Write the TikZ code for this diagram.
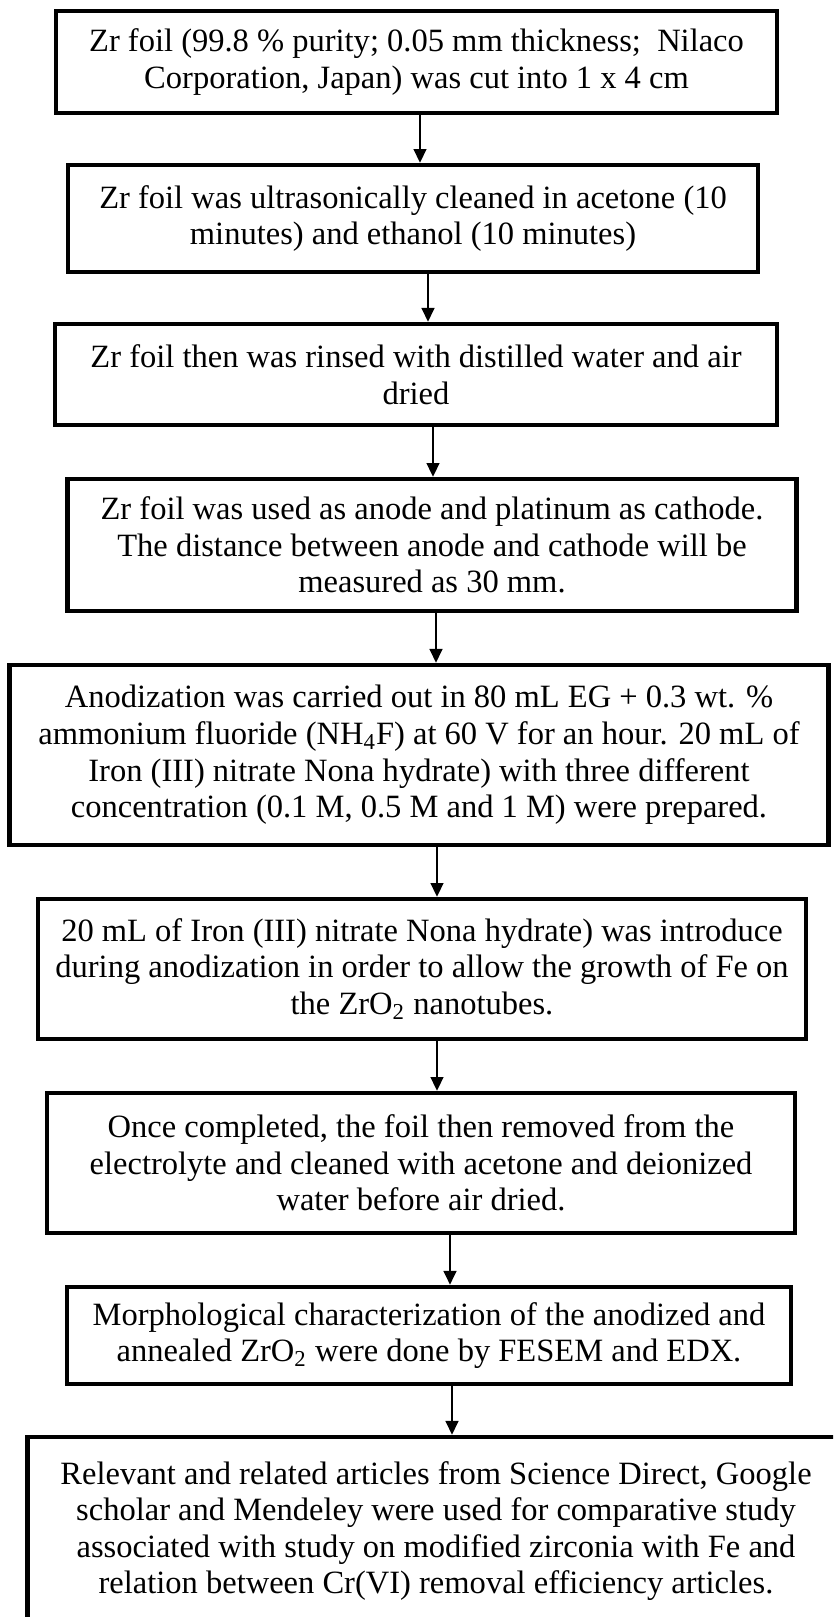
\documentclass[tikz,border=0pt]{standalone}
\usepackage{fontspec}
\setmainfont{Liberation Serif}
\usetikzlibrary{arrows.meta}

\tikzset{
  stepbox/.style={draw, line width=2pt, align=center, inner sep=0pt,
    font=\fontsize{14.2}{16}\selectfont},
  flow/.style={line width=0.8pt, -{Triangle[length=6pt, width=5.6pt]}}
}

\begin{document}
\begin{tikzpicture}[x=0.4367pt, y=-0.4367pt]
\useasboundingbox (0,0) rectangle (833,1617);
\clip (0,0) rectangle (833,1617);

\node[stepbox, minimum width=314.9pt, minimum height=44.5pt] (foil) at (416.5,62) {Zr foil (99.8 \% purity; 0.05 mm thickness;~ Nilaco\\Corporation, Japan) was cut into 1 x 4 cm};
\node[stepbox, minimum width=301.5pt, minimum height=46.7pt] (clean) at (413,218.5) {Zr foil was ultrasonically cleaned in acetone (10\\minutes) and ethanol (10 minutes)};
\node[stepbox, minimum width=315.3pt, minimum height=44.1pt] (rinse) at (416,374.5) {Zr foil then was rinsed with distilled water and air\\dried};
\node[stepbox, minimum width=318.6pt, minimum height=57.6pt] (setup) at (432,545) {Zr foil was used as anode and platinum as cathode.\\The distance between anode and cathode will be\\measured as 30 mm.};
\node[stepbox, minimum width=357.7pt, minimum height=78.6pt] (anodize) at (419,755) {Anodization was carried out in 80 mL EG + 0.3 wt. \%\\ammonium fluoride (NH\textsubscript{4}F) at 60 V for an hour. 20 mL of\\Iron (III) nitrate Nona hydrate) with three different\\concentration (0.1 M, 0.5 M and 1 M) were prepared.};
\node[stepbox, minimum width=335.4pt, minimum height=61.1pt] (dope) at (422,969) {20 mL of Iron (III) nitrate Nona hydrate) was introduce\\during anodization in order to allow the growth of Fe on\\the ZrO\textsubscript{2} nanotubes.};
\node[stepbox, minimum width=326.7pt, minimum height=61.1pt] (dry) at (421,1163) {Once completed, the foil then removed from the\\electrolyte and cleaned with acetone and deionized\\water before air dried.};
\node[stepbox, minimum width=316.0pt, minimum height=42.4pt] (morph) at (429,1335.5) {Morphological characterization of the anodized and\\annealed ZrO\textsubscript{2} were done by FESEM and EDX.};
\node[stepbox, minimum width=357pt, minimum height=82.1pt] (review) at (436,1531) {Relevant and related articles from Science Direct, Google\\scholar and Mendeley were used for comparative study\\associated with study on modified zirconia with Fe and\\relation between Cr(VI) removal efficiency articles.};

% arrow positions
\coordinate (a1) at (420,0);
\coordinate (a2) at (428,0);
\coordinate (a3) at (433,0);
\coordinate (a4) at (436,0);
\coordinate (a5) at (437,0);
\coordinate (a6) at (437,0);
\coordinate (a7) at (450,0);
\coordinate (a8) at (452,0);

\draw[flow] (foil.south -| a1) -- (clean.north -| a1);
\draw[flow] (clean.south -| a2) -- (rinse.north -| a2);
\draw[flow] (rinse.south -| a3) -- (setup.north -| a3);
\draw[flow] (setup.south -| a4) -- (anodize.north -| a4);
\draw[flow] (anodize.south -| a5) -- (dope.north -| a5);
\draw[flow] (dope.south -| a6) -- (dry.north -| a6);
\draw[flow] (dry.south -| a7) -- (morph.north -| a7);
\draw[flow] (morph.south -| a8) -- (review.north -| a8);
\end{tikzpicture}
\end{document}
